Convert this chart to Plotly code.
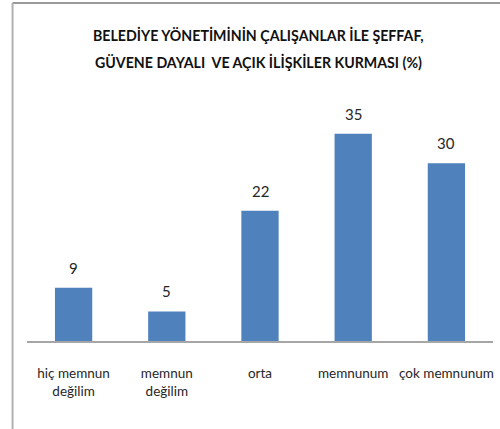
import plotly.graph_objects as go

categories = ["hiç memnun<br>değilim", "memnun<br>değilim", "orta", "memnunum", "çok memnunum"]
values = [9, 5, 22, 35, 30]
title_lines = [
    "BELEDİYE YÖNETİMİNİN ÇALIŞANLAR İLE ŞEFFAF,",
    "GÜVENE DAYALI\u00a0 VE AÇIK İLİŞKİLER KURMASI (%)",
]

FONT = "Lato, Roboto, sans-serif"
BAR_COLOR = "#4F81BD"
TEXT_COLOR = "#262626"

fig = go.Figure()
fig.add_trace(go.Bar(
    x=categories,
    y=values,
    marker=dict(color=BAR_COLOR, line=dict(width=0)),
    hoverinfo="skip",
))

# value labels above each bar
annotations = [
    dict(x=c, y=v, xref="x", yref="y", text=str(v), showarrow=False,
         yanchor="bottom", yshift=9,
         font=dict(family=FONT, size=15, color=TEXT_COLOR))
    for c, v in zip(categories, values)
]

# two-line bold title
for yy, line in zip([1.291, 1.177], title_lines):
    annotations.append(dict(
        x=0.497, y=yy, xref="paper", yref="paper", text=f"<b>{line}</b>",
        showarrow=False, xanchor="center", yanchor="middle",
        font=dict(family=FONT, size=14.2, color="#111111"),
    ))

# chart frame: top and left edges
shapes = [
    dict(type="line", xref="paper", yref="paper", x0=-0.031, x1=1.02,
         y0=1.426, y1=1.426, line=dict(color="#9A9A9A", width=2)),
    dict(type="line", xref="paper", yref="paper", x0=-0.031, x1=-0.031,
         y0=1.426, y1=-0.4, line=dict(color="#B0B0B0", width=2)),
]

fig.update_layout(
    width=500,
    height=429,
    margin=dict(l=26.5, r=7, t=104, b=88, autoexpand=False),
    paper_bgcolor="white",
    plot_bgcolor="white",
    showlegend=False,
    bargap=0.6,
    annotations=annotations,
    shapes=shapes,
    font=dict(family=FONT, size=15, color=TEXT_COLOR),
    xaxis=dict(
        showline=True, linecolor="#A6A6A6", linewidth=1.5,
        ticks="", showgrid=False, zeroline=False,
        tickangle=0, automargin=False,
        ticklabelstandoff=19,
        tickfont=dict(family=FONT, size=13.5, color=TEXT_COLOR),
    ),
    yaxis=dict(
        range=[0, 40], visible=False, showgrid=False, zeroline=False,
    ),
)

fig.write_html("out.html")
